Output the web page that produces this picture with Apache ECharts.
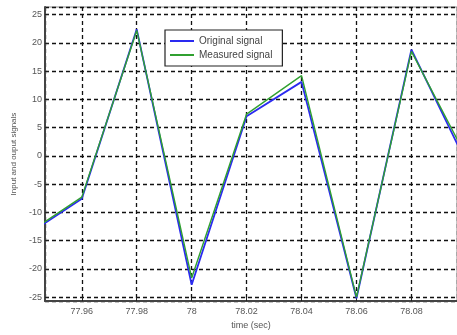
<!DOCTYPE html>
<html>
<head>
<meta charset="utf-8">
<script src="https://cdn.jsdelivr.net/npm/echarts@6/dist/echarts.min.js"></script>
<style>
    html, body { margin: 0; padding: 0; background: #fff; }
    #signals { width: 457px; height: 335px; }
</style>
</head>
<body>
<div id="signals"></div>
<script>
    // sample times (sec) and signal values
    const times = [77.94, 77.96, 77.98, 78.00, 78.02, 78.04, 78.06, 78.08, 78.10]
    const originalSignal = [-14.0, -7.6, 22.4, -22.8, 7.0, 13.1, -25.2, 18.8, -1.2]
    const measuredSignal = [-13.8, -7.3, 22.2, -21.6, 7.4, 14.2, -25.0, 18.5, -0.2]
    const seriesNames = ['Original signal', 'Measured signal']

    const pairs = (ys) => times.map((t, i) => [t, ys[i]])

    const labelFont = {fontFamily: 'Liberation Sans', fontSize: 9, color: '#555'}
    const dashGrid = {show: true, lineStyle: {color: '#111', type: [4, 3], width: 1.3}}

    const chart = echarts.init(document.getElementById('signals'))
    chart.setOption({
        animation: false,
        backgroundColor: '#fff',
        grid: {
            left: 45, top: 7, right: -2, bottom: 32,
            show: true, borderColor: '#888', borderWidth: 1
        },
        legend: {
            data: seriesNames,
            orient: 'vertical',
            left: 165, top: 30,
            itemWidth: 24, itemHeight: 2, itemGap: 4,
            padding: [6, 10, 6, 5],
            backgroundColor: '#fff',
            borderColor: '#222', borderWidth: 1.2,
            icon: 'rect',
            textStyle: {fontFamily: 'Liberation Sans', fontSize: 10, color: '#444'}
        },
        xAxis: {
            type: 'value',
            min: 77.9466, max: 78.0966,
            minInterval: 0.02, maxInterval: 0.02,
            name: 'time (sec)',
            nameLocation: 'middle', nameGap: 18,
            nameTextStyle: labelFont,
            axisLine: {onZero: false, lineStyle: {color: '#444', width: 2}},
            axisTick: {inside: true, length: 4, lineStyle: {color: '#222'}},
            axisLabel: Object.assign({showMinLabel: false, showMaxLabel: false, margin: 6}, labelFont),
            splitLine: dashGrid
        },
        yAxis: {
            type: 'value',
            min: -25.7, max: 26.35,
            minInterval: 5, maxInterval: 5,
            name: 'Input and ouput signals',
            nameLocation: 'middle', nameGap: 27,
            nameTextStyle: {fontFamily: 'Liberation Sans', fontSize: 8, color: '#555'},
            axisLine: {show: true, onZero: false, lineStyle: {color: '#444', width: 2}},
            axisTick: {show: true, inside: true, length: 4, lineStyle: {color: '#222'}},
            axisLabel: Object.assign({showMinLabel: false, showMaxLabel: false, margin: 3}, labelFont),
            splitLine: dashGrid
        },
        series: [
            {
                name: seriesNames[0],
                type: 'line',
                data: pairs(originalSignal),
                showSymbol: false,
                color: '#2a2af0',
                lineStyle: {width: 1.8}
            },
            {
                name: seriesNames[1],
                type: 'line',
                data: pairs(measuredSignal),
                showSymbol: false,
                color: '#30a030',
                lineStyle: {width: 1.4}
            }
        ]
    })
</script>
</body>
</html>
